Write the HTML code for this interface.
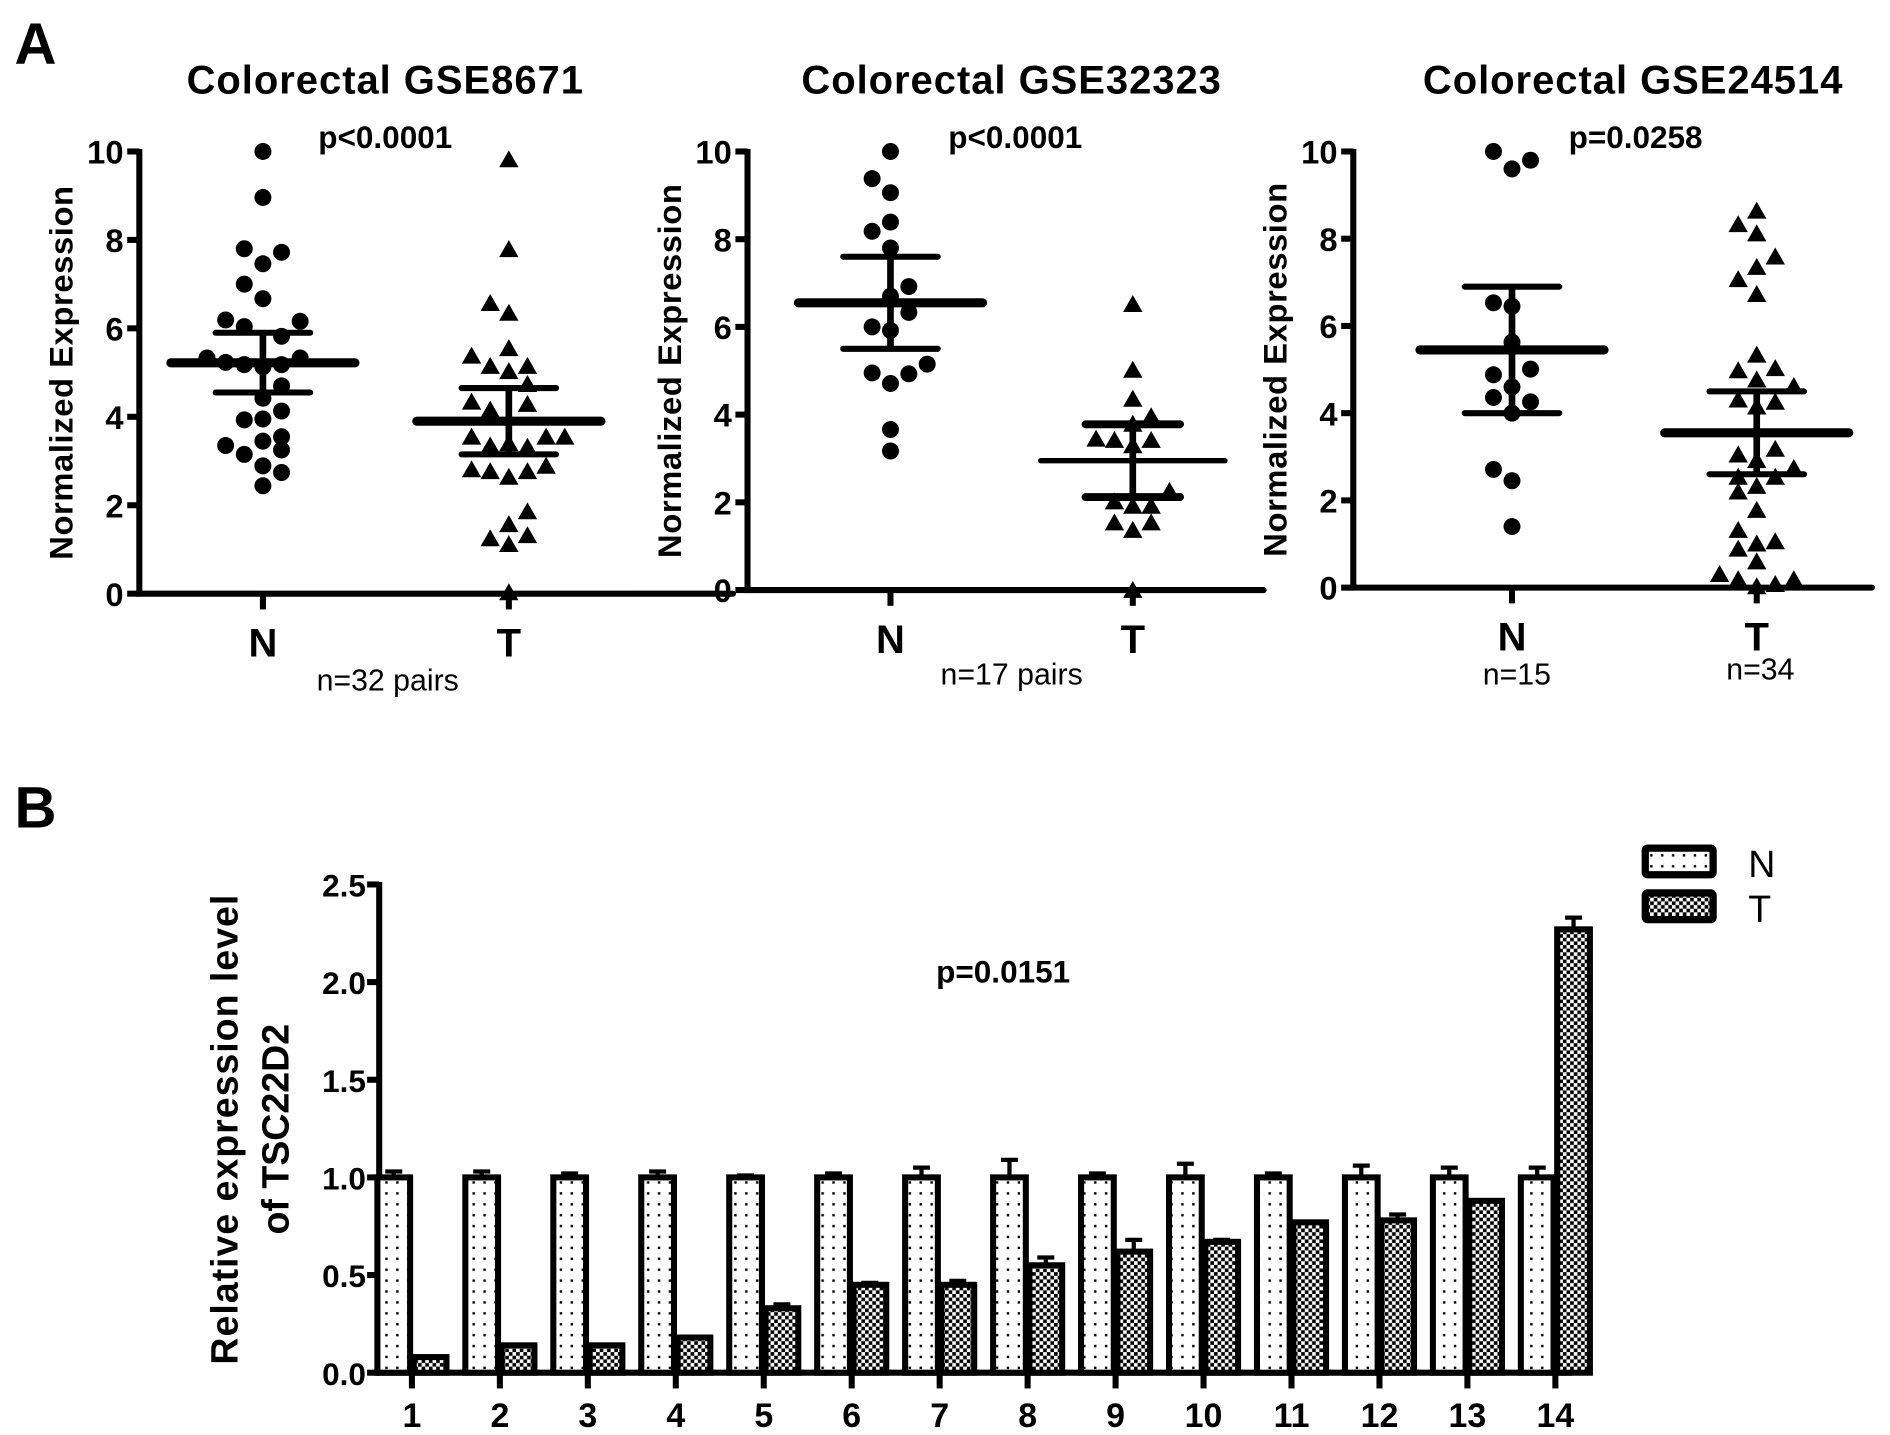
<!DOCTYPE html>
<html><head><meta charset="utf-8"><style>
html,body{margin:0;padding:0;background:#fff}
svg{display:block}
text{font-family:"Liberation Sans",Arial,sans-serif;fill:#000}
</style></head><body>
<svg id="fig" width="1890" height="1435" viewBox="0 0 1560 1184.4" xmlns="http://www.w3.org/2000/svg">
<defs>
<pattern id="dots" width="9" height="9" patternUnits="userSpaceOnUse"><rect width="9" height="9" fill="#fff"/><rect x="3" y="3" width="2" height="2" fill="#000"/></pattern>
<pattern id="check" width="6" height="6" patternUnits="userSpaceOnUse"><rect width="6" height="6" fill="#fff"/><rect width="3" height="3" fill="#000"/><rect x="3" y="3" width="3" height="3" fill="#000"/></pattern>
</defs>
<text x="12" y="53" font-size="48" font-weight="bold">A</text>
<text x="12" y="683" font-size="48" font-weight="bold">B</text>
<g id="scatters"></g>
<g id="bars"></g>
</svg>
<script>
// ---------- Panel A data ----------
const p1NVals=[10,8.96,7.8,7.72,7.46,7.0,6.67,6.19,6.16,6.04,5.82,5.33,5.23,5.18,5.13,5.18,5.33,4.7,4.42,4.13,3.93,3.95,3.35,3.45,3.55,3.15,3.25,2.89,2.74,2.44];
const p1NCols=[0,0,-1,1,0,-1,0,-2,2,-1,1,-3,-2,-1,0,1,2,1,0,1,-1,0,-2,0,1,-1,1,0,1,0];
const p1TVals=[9.82,7.79,6.57,6.35,5.55,5.38,5.15,5.03,5.15,4.74,4.34,4.16,4.29,3.55,3.35,3.4,3.32,3.55,3.55,2.81,2.77,2.64,2.77,2.89,1.86,1.57,1.25,1.12,1.32,0.03];
const p1TCols=[0,0,-1,0,0,-2,-1,0,1,1,-2,-1,1,-2,-1,0,1,2,3,-2,-1,0,1,2,1,0,-1,0,1,0];
const p1Stats=[5.22,4.55,5.9,3.9,3.15,4.65];
const p2NVals=[10,9.38,9.06,8.39,8.18,7.8,6.92,6.7,6.33,6.0,5.92,5.15,4.95,4.93,4.71,3.66,3.17];
const p2NCols=[0,-1,0,0,-1,0,1,0,1,-1,0,2,-1,1,0,0,0];
const p2TVals=[6.52,5.02,4.36,3.96,3.79,3.45,3.42,3.42,3.3,2.26,2.02,1.92,1.92,1.54,1.54,1.37,0];
const p2TCols=[0,0,0,1,0,-2,-1,1,0,2,-1,0,1,-1,1,0,0];
const p2Stats=[6.55,5.5,7.6,2.95,2.12,3.78];
const p3NVals=[10,9.6,9.8,6.53,6.45,5.63,4.88,5.01,4.6,4.36,4.26,4.0,2.71,2.45,1.4];
const p3NCols=[-1,0,1,-1,0,0,-1,1,0,-1,1,0,-1,0,0];
const p3TVals=[8.64,8.33,8.12,7.59,7.35,7.07,6.73,5.34,4.98,5.03,4.77,4.62,4.31,4.15,4.26,3.05,3.18,2.92,2.74,2.54,2.54,2.33,2.2,1.78,1.32,1.06,1.01,0.89,0.6,0.31,0.19,0.08,0.19,0.03];
const p3TCols=[0,-1,0,1,0,-1,0,0,-1,1,0,2,-1,0,1,-1,1,0,2,-1,1,0,-1,0,-1,1,0,-1,0,-2,-1,1,2,0];
const p3Stats=[5.45,4.0,6.9,3.55,2.6,4.5];
const yTicksA=[0,2,4,6,8,10];
const groupLabels=["N","T"];

// ---------- Panel B data ----------
const samples=["1","2","3","4","5","6","7","8","9","10","11","12","13","14"];
const nVals=[1,1,1,1,1,1,1,1,1,1,1,1,1,1];
const nErr=[0.03,0.03,0.02,0.03,0.01,0.02,0.05,0.09,0.02,0.07,0.02,0.06,0.05,0.05];
const tVals=[0.08,0.14,0.14,0.18,0.33,0.45,0.45,0.55,0.62,0.67,0.77,0.78,0.88,2.27];
const tErr=[0,0,0,0,0.02,0.01,0.02,0.04,0.06,0.01,0,0.03,0,0.06];
const yTicksB=["0.0","0.5","1.0","1.5","2.0","2.5"];

const NS="http://www.w3.org/2000/svg";
function mk(tag,attrs,parent){const e=document.createElementNS(NS,tag);for(const k in attrs)e.setAttribute(k,attrs[k]);parent.appendChild(e);return e;}
function txt(s,attrs,parent){const e=mk('text',attrs,parent);e.textContent=s;return e;}

const panels=[
 {ax:115,xEnd:605,y0:490,y10:125,nx:217,tx:420,title:"Colorectal GSE8671",tcx:318,p:"p<0.0001",pcx:318,N:p1NVals,Nc:p1NCols,T:p1TVals,Tc:p1TCols,st:p1Stats,nlab:[["n=32 pairs",320,570]],tThin:false,lab:"p1"},
 {ax:617,xEnd:1043,y0:487,y10:125,nx:735,tx:935,title:"Colorectal GSE32323",tcx:835,p:"p<0.0001",pcx:838,N:p2NVals,Nc:p2NCols,T:p2TVals,Tc:p2TCols,st:p2Stats,nlab:[["n=17 pairs",835,565]],tThin:true,lab:"p2"},
 {ax:1117,xEnd:1545,y0:485,y10:125,nx:1248,tx:1450,title:"Colorectal GSE24514",tcx:1348,p:"p=0.0258",pcx:1350,N:p3NVals,Nc:p3NCols,T:p3TVals,Tc:p3TCols,st:p3Stats,nlab:[["n=15",1252,565],["n=34",1453,561]],tThin:false,lab:"p3"}
];
const sg=document.getElementById('scatters');
panels.forEach(P=>{
 const g=mk('g',{},sg);
 
 
 const ys=v=>P.y0-(P.y0-P.y10)*v/10;
 const step=(P.tx-P.nx)/13.2;
 const t=txt(P.title,{x:P.tcx,y:77,'font-size':33,'font-weight':'bold','text-anchor':'middle','letter-spacing':'0.8'},g);
 
 
 const pv=txt(P.p,{x:P.pcx,y:122,'font-size':26,'font-weight':'bold','text-anchor':'middle'},g);
 
 
 const yl=txt("Normalized Expression",{x:0,y:0,'font-size':27,'font-weight':'bold','text-anchor':'middle','letter-spacing':'0.5',transform:`translate(${P.ax-55},${(P.y0+P.y10)/2}) rotate(-90)`},g);
 
 
 mk('line',{x1:P.ax,y1:P.y10-2,x2:P.ax,y2:P.y0+2,stroke:'#000','stroke-width':5},g);
 mk('line',{x1:P.ax-2,y1:P.y0,x2:P.xEnd,y2:P.y0,stroke:'#000','stroke-width':5,'stroke-linecap':'round'},g);
 yTicksA.forEach(v=>{
  mk('line',{x1:P.ax-10,y1:ys(v),x2:P.ax,y2:ys(v),stroke:'#000','stroke-width':5},g);
  const l=txt(String(v),{x:P.ax-13,y:ys(v)+10,'font-size':27,'font-weight':'bold','text-anchor':'end'},g);
  
  
 });
 [P.nx,P.tx].forEach((x,i)=>{
  mk('line',{x1:x,y1:P.y0,x2:x,y2:P.y0+13,stroke:'#000','stroke-width':5},g);
  const l=txt(groupLabels[i],{x:x,y:P.y0+52,'font-size':33,'font-weight':'bold','text-anchor':'middle'},g);
  
  
 });
 P.nlab.forEach(n=>{const l=txt(n[0],{x:n[1],y:n[2],'font-size':25,'text-anchor':'middle'},g);
  
  });
 P.N.forEach((v,i)=>{const c=mk('circle',{cx:P.nx+P.Nc[i]*step,cy:ys(v),r:7,fill:'#000'},g);
  
  });
 P.T.forEach((v,i)=>{const x=P.tx+P.Tc[i]*step,y=ys(v);
  const tr=mk('polygon',{points:`${x},${y-7.5} ${x-8},${y+6.5} ${x+8},${y+6.5}`,fill:'#000'},g);
  
  });
 [[P.nx,P.st[0],P.st[1],P.st[2],false],[P.tx,P.st[3],P.st[4],P.st[5],P.tThin]].forEach(a=>{
  const [x,m,lo,hi,thin]=a;
  mk('line',{x1:x-76,y1:ys(m),x2:x+76,y2:ys(m),stroke:'#000','stroke-width':thin?4.5:7.5,'stroke-linecap':'round'},g);
  mk('line',{x1:x,y1:ys(lo),x2:x,y2:ys(hi),stroke:'#000','stroke-width':5.5},g);
  mk('line',{x1:x-39,y1:ys(lo),x2:x+39,y2:ys(lo),stroke:'#000','stroke-width':thin?6.5:5,'stroke-linecap':'round'},g);
  mk('line',{x1:x-39,y1:ys(hi),x2:x+39,y2:ys(hi),stroke:'#000','stroke-width':thin?6.5:5,'stroke-linecap':'round'},g);
 });
});

// ---------- Panel B ----------
const bg=document.getElementById('bars');
const AX=313,Y0=1133,Y25=730,XEND=1297;
const yb=v=>Y0-(Y0-Y25)*v/2.5;
const xc=i=>340+i*72.6;
const bw=27;
mk('line',{x1:AX,y1:Y25-2,x2:AX,y2:Y0+2,stroke:'#000','stroke-width':5},bg);
mk('line',{x1:AX-2,y1:Y0,x2:XEND,y2:Y0,stroke:'#000','stroke-width':5,'stroke-linecap':'round'},bg);
yTicksB.forEach(s=>{const v=parseFloat(s);
 mk('line',{x1:AX-10,y1:yb(v),x2:AX,y2:yb(v),stroke:'#000','stroke-width':5},bg);
 const l=txt(s,{x:AX-11,y:yb(v)+10,'font-size':26,'font-weight':'bold','text-anchor':'end'},bg);
 
 
});
const t1=txt("Relative expression level",{x:0,y:0,'font-size':31,'font-weight':'bold','text-anchor':'middle','letter-spacing':'0.8',transform:`translate(196,932) rotate(-90)`},bg);


const t2=txt("of TSC22D2",{x:0,y:0,'font-size':31,'font-weight':'bold','text-anchor':'middle',transform:`translate(238,932) rotate(-90)`},bg);


const pb=txt("p=0.0151",{x:828,y:811,'font-size':26,'font-weight':'bold','text-anchor':'middle'},bg);


samples.forEach((s,i)=>{
 const c=xc(i);
 mk('line',{x1:c,y1:Y0,x2:c,y2:Y0+13,stroke:'#000','stroke-width':5},bg);
 const l=txt(s,{x:c,y:1178,'font-size':28,'font-weight':'bold','text-anchor':'middle'},bg);
 
 
 [[nVals[i],nErr[i],c-bw-1.5,'url(#dots)','normal'],[tVals[i],tErr[i],c+1.5,'url(#check)','tumor']].forEach(b=>{
  const [v,e,x,f,nm]=b;
  if(e>0){
   mk('line',{x1:x+bw/2,y1:yb(v),x2:x+bw/2,y2:yb(v+e),stroke:'#000','stroke-width':3.5},bg);
   mk('line',{x1:x+bw/2-7,y1:yb(v+e),x2:x+bw/2+7,y2:yb(v+e),stroke:'#000','stroke-width':3.5},bg);
  }
  const r=mk('rect',{x:x,y:yb(v),width:bw,height:Y0-yb(v),fill:f,stroke:'#000','stroke-width':5},bg);
  
  
 });
});
// legend
const lg=mk('g',{},bg);


mk('rect',{x:1358,y:700,width:56,height:22,fill:'url(#dots)',stroke:'#000','stroke-width':6,rx:2},lg);
mk('rect',{x:1358,y:737,width:56,height:22,fill:'url(#check)',stroke:'#000','stroke-width':6,rx:2},lg);
txt("N",{x:1443,y:724,'font-size':31},lg);
txt("T",{x:1443,y:761,'font-size':31},lg);
</script>
</body></html>
